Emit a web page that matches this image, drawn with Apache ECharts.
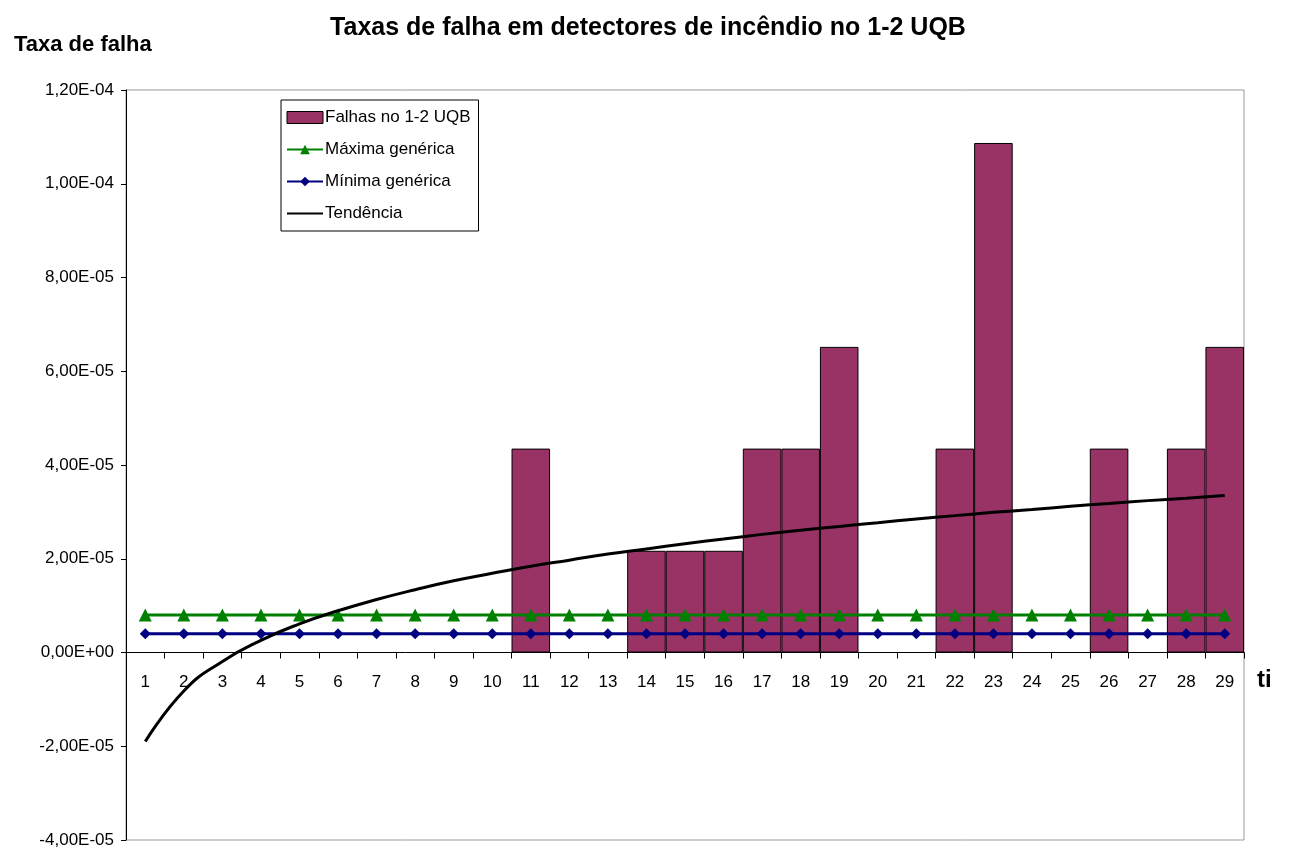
<!DOCTYPE html>
<html>
<head>
<meta charset="UTF-8">
<title>Taxas de falha em detectores de incêndio no 1-2 UQB</title>
<script type="text/javascript" src="https://cdn.jsdelivr.net/npm/echarts@6/dist/echarts.min.js"></script>
<style>
  html, body { margin: 0; padding: 0; background: #fff; }
  #chart { width: 1291px; height: 848px; }
</style>
</head>
<body>
<div id="chart"></div>
<script type="text/javascript">
// categorias (ti)
var categorias = ['1','2','3','4','5','6','7','8','9','10','11','12','13','14','15',
                  '16','17','18','19','20','21','22','23','24','25','26','27','28','29'];
// falhas no 1-2 UQB (null = sem barra)
var falhas = [null, null, null, null, null, null, null, null, null, null, 4.35e-5, null, null,
              2.17e-5, 2.17e-5, 2.17e-5, 4.35e-5, 4.35e-5, 6.52e-5, null, null, 4.35e-5, 1.087e-4,
              null, null, 4.35e-5, null, 4.35e-5, 6.52e-5];
// máxima genérica
var maxima = [8e-6, 8e-6, 8e-6, 8e-6, 8e-6, 8e-6, 8e-6, 8e-6, 8e-6, 8e-6, 8e-6, 8e-6, 8e-6, 8e-6, 8e-6,
              8e-6, 8e-6, 8e-6, 8e-6, 8e-6, 8e-6, 8e-6, 8e-6, 8e-6, 8e-6, 8e-6, 8e-6, 8e-6, 8e-6];
// mínima genérica
var minima = [4e-6, 4e-6, 4e-6, 4e-6, 4e-6, 4e-6, 4e-6, 4e-6, 4e-6, 4e-6, 4e-6, 4e-6, 4e-6, 4e-6, 4e-6,
              4e-6, 4e-6, 4e-6, 4e-6, 4e-6, 4e-6, 4e-6, 4e-6, 4e-6, 4e-6, 4e-6, 4e-6, 4e-6, 4e-6];
// tendência
var tendencia = [-1.90e-5, -0.82e-5, -0.19e-5, 0.26e-5, 0.61e-5, 0.89e-5, 1.13e-5, 1.34e-5, 1.53e-5, 1.69e-5,
                 1.84e-5, 1.97e-5, 2.10e-5, 2.21e-5, 2.32e-5, 2.42e-5, 2.52e-5, 2.61e-5, 2.69e-5, 2.77e-5,
                 2.85e-5, 2.92e-5, 2.99e-5, 3.05e-5, 3.12e-5, 3.18e-5, 3.24e-5, 3.29e-5, 3.35e-5];

var fonte = 'Liberation Sans, Arial, sans-serif';

// formato do Excel: 1,20E-04
function formatoExp(v) {
    if (Math.abs(v) < 1e-12) return '0,00E+00';
    var s = v.toExponential(2);           // ex: 1.20e-4
    var partes = s.split('e');
    var exp = parseInt(partes[1], 10);
    var sinal = exp < 0 ? '-' : '+';
    var e = Math.abs(exp);
    return partes[0].replace('.', ',') + 'E' + sinal + (e < 10 ? '0' + e : e);
}

var myChart = echarts.init(document.getElementById('chart'));
myChart.setOption({
    backgroundColor: '#fff',
    animation: false,
    textStyle: { fontFamily: fonte },
    title: [
        {
            text: 'Taxas de falha em detectores de incêndio no 1-2 UQB',
            left: 643, top: 11, textAlign: 'center',
            textStyle: { fontSize: 25, fontWeight: 'bold', color: '#000', fontFamily: fonte }
        },
        {
            text: 'Taxa de falha',
            left: 9, top: 29,
            textStyle: { fontSize: 22, fontWeight: 'bold', color: '#000', fontFamily: fonte }
        }
    ],
    legend: {
        orient: 'vertical',
        left: 281, top: 100,
        padding: [9, 8, 9, 5],
        itemGap: 15,
        itemWidth: 36, itemHeight: 12,
        borderColor: '#000', borderWidth: 1,
        backgroundColor: '#fff',
        textStyle: { fontSize: 17, color: '#000', fontFamily: fonte, padding: [0, 0, 0, -3] },
        data: [
            { name: 'Falhas no 1-2 UQB', icon: 'rect', itemStyle: { borderColor: '#000', borderWidth: 1 } },
            'Máxima genérica',
            'Mínima genérica',
            { name: 'Tendência', itemStyle: { opacity: 0 } }
        ]
    },
    grid: {
        left: 126, right: 47, top: 90, bottom: 8,
        show: true, borderColor: '#999', borderWidth: 1,
        containLabel: false,
        outerBoundsMode: 'none'
    },
    xAxis: {
        type: 'category',
        data: categorias,
        boundaryGap: true,
        position: 'bottom',
        offset: -187.5,   // eixo no zero, com os rótulos junto
        axisLine: { onZero: false, lineStyle: { color: '#000', width: 1 } },
        axisTick: { show: true, interval: 0, length: 6, lineStyle: { color: '#000' } },
        axisLabel: { interval: 0, margin: 21, fontSize: 17, color: '#000', fontFamily: fonte },
        splitLine: { show: false }
    },
    yAxis: {
        type: 'value',
        min: -4e-5, max: 1.2e-4, interval: 2e-5,
        axisLine: { show: true, lineStyle: { color: '#000', width: 1 } },
        axisTick: { show: true, length: 5, lineStyle: { color: '#000' } },
        axisLabel: { fontSize: 17, color: '#000', margin: 12, fontFamily: fonte, formatter: formatoExp },
        splitLine: { show: false }
    },
    graphic: [
        {
            type: 'text', left: 1257, top: 668,
            style: { text: 'ti', font: 'bold 24px ' + fonte, fill: '#000' }
        }
    ],
    series: [
        {
            name: 'Falhas no 1-2 UQB',
            type: 'bar',
            data: falhas,
            barCategoryGap: '0%',
            itemStyle: { color: '#993366', borderColor: '#000', borderWidth: 1 },
            z: 1
        },
        {
            name: 'Máxima genérica',
            type: 'line',
            data: maxima,
            symbol: 'triangle', symbolSize: 13,
            lineStyle: { color: '#008000', width: 3 },
            itemStyle: { color: '#008000' },
            z: 3
        },
        {
            name: 'Mínima genérica',
            type: 'line',
            data: minima,
            symbol: 'diamond', symbolSize: 11,
            lineStyle: { color: '#000080', width: 3 },
            itemStyle: { color: '#000080' },
            z: 3
        },
        {
            name: 'Tendência',
            type: 'line',
            data: tendencia,
            smooth: true,
            symbol: 'none',
            lineStyle: { color: '#000', width: 3 },
            itemStyle: { color: '#000' },
            z: 4
        }
    ]
});
</script>
</body>
</html>
